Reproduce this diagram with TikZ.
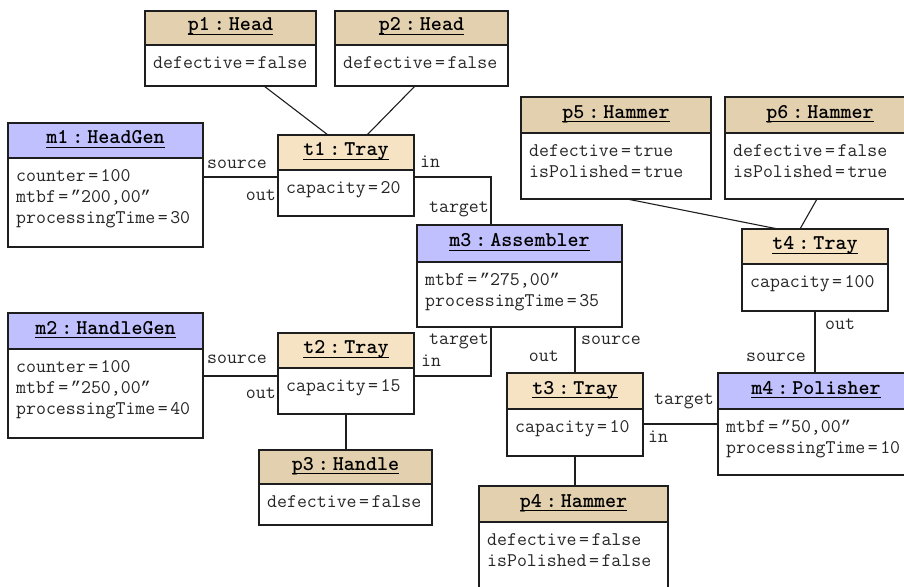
\documentclass[tikz,border=0pt]{standalone}
\usepackage{fontspec}
\newfontfamily\quotefont{Liberation Mono}
\usetikzlibrary{calc}
\definecolor{partfill}{RGB}{226,208,174}
\definecolor{trayfill}{RGB}{245,227,196}
\definecolor{machfill}{RGB}{192,192,255}
\definecolor{ink}{RGB}{30,30,30}
\newcommand{\ulb}[1]{\setbox0\hbox{#1}\rlap{\raisebox{-4.4pt}{\rule{\wd0}{1.1pt}}}\box0}
\newcommand{\ttl}[2]{\ulb{#1\kern4pt:\kern4pt#2}}
\newcommand{\eqs}{\kern2.5pt=\kern2.5pt}
\newcommand{\qq}{{\quotefont\fontsize{17}{21}\selectfont ”}}
\tikzset{
  objhead/.style={draw=ink, line width=1.1pt, inner sep=0pt, outer sep=0pt, anchor=north west,
    font=\fontsize{21}{22}\selectfont\ttfamily\bfseries, text height=10pt, text depth=4pt},
  objbody/.style={draw=ink, fill=white, line width=1.1pt, inner sep=0pt, outer sep=0pt, anchor=north west},
  attr/.style={inner sep=0pt, anchor=base west, font=\fontsize{19.3}{21}\selectfont\ttfamily, text=black!85},
  lbl/.style={inner sep=0pt, font=\fontsize{19.3}{21}\selectfont\ttfamily, text=black!85},
  conn/.style={draw=ink, line width=1.1pt}
}
\newcommand{\UObj}[9]{%
  \node[objhead, fill=#7, minimum width=#4pt, minimum height=#5pt] (#1h) at (#2,#3) {#8};
  \node[objbody, minimum width=#4pt, minimum height=#6pt] (#1b) at (#1h.south west) {};
  \node[attr] (#1a) at ([xshift=8pt,yshift=-23.5pt]#1b.north west) {\begin{tabular}[t]{@{}l@{}}#9\end{tabular}};
}
\begin{document}
\begin{tikzpicture}[x=1pt,y=-1pt]
\useasboundingbox (0,0) rectangle (904,586);
\clip (0,0) rectangle (904,586);
\fill[white] (0,0) rectangle (904,586);

\UObj{p1}{145}{11}{171}{34}{41}{partfill}{\ttl{p1}{Head}}{defective\eqs false}
\UObj{p2}{335}{11}{173}{34}{41}{partfill}{\ttl{p2}{Head}}{defective\eqs false}
\UObj{m1}{8}{123}{195}{35}{89}{machfill}{\ttl{m1}{HeadGen}}{counter\eqs 100\\mtbf\eqs \qq200,00\qq\\processingTime\eqs 30}
\UObj{t1}{278}{135}{136}{35}{46}{trayfill}{\ttl{t1}{Tray}}{capacity\eqs 20}
\UObj{m3}{417}{225}{205}{37}{65}{machfill}{\ttl{m3}{Assembler}}{mtbf\eqs \qq275,00\qq\\processingTime\eqs 35}
\UObj{p5}{521}{97}{190}{36}{66}{partfill}{\ttl{p5}{Hammer}}{defective\eqs true\\isPolished\eqs true}
\UObj{p6}{725}{97}{190}{36}{66}{partfill}{\ttl{p6}{Hammer}}{defective\eqs false\\isPolished\eqs true}
\UObj{t4}{742}{229}{146}{35}{47}{trayfill}{\ttl{t4}{Tray}}{capacity\eqs 100}
\UObj{m2}{8}{313}{195}{36}{89}{machfill}{\ttl{m2}{HandleGen}}{counter\eqs 100\\mtbf\eqs \qq250,00\qq\\processingTime\eqs 40}
\UObj{t2}{278}{333}{136}{35}{46}{trayfill}{\ttl{t2}{Tray}}{capacity\eqs 15}
\UObj{p3}{259}{450}{173}{34}{41}{partfill}{\ttl{p3}{Handle}}{defective\eqs false}
\UObj{t3}{507}{373}{136}{36}{47}{trayfill}{\ttl{t3}{Tray}}{capacity\eqs 10}
\UObj{m4}{718}{373}{196}{36}{66}{machfill}{\ttl{m4}{Polisher}}{mtbf\eqs \qq50,00\qq\\processingTime\eqs 10}
\UObj{p4}{479}{486}{189}{36}{80}{partfill}{\ttl{p4}{Hammer}}{defective\eqs false\\isPolished\eqs false}

% p1, p2 -- t1
\draw[conn] ([xshift=119pt]p1b.south west) -- ([xshift=50pt]t1h.north west);
\draw[conn] ([xshift=80pt]p2b.south west) -- ([xshift=89pt]t1h.north west);

% m1 -- t1
\coordinate (c1) at ([yshift=-7pt]t1b.north west);
\draw[conn] (c1) -- (c1 -| m1b.east);
\node[lbl, anchor=base east] (l1) at ([xshift=-11pt,yshift=8.5pt]c1) {source};
\node[lbl, anchor=base east] (l2) at ([xshift=-2pt,yshift=-23.5pt]c1) {out};

% t1 -- m3
\coordinate (c2) at ([yshift=-7pt]t1b.north east);
\coordinate (c3) at ([xshift=74pt]m3h.north west);
\draw[conn] (c2) -| (c3);
\node[lbl, anchor=base west] (l3) at ([xshift=6pt,yshift=10pt]c2) {in};
\node[lbl, anchor=base east] (l4) at ([xshift=-2pt,yshift=12.5pt]c3) {target};

% m2 -- t2
\coordinate (c4) at ([yshift=-8pt]t2b.north west);
\draw[conn] (c4) -- (c4 -| m2b.east);
\node[lbl, anchor=base east] (l5) at ([xshift=-11pt,yshift=12.5pt]c4) {source};
\node[lbl, anchor=base east] (l6) at ([xshift=-2pt,yshift=-22.5pt]c4) {out};

% t2 -- m3
\coordinate (c5) at ([yshift=-8pt]t2b.north east);
\coordinate (c6) at ([xshift=74pt]m3b.south west);
\draw[conn] (c5) -| (c6);
\node[lbl, anchor=base east] (l7) at ([xshift=-2pt,yshift=-17.5pt]c6) {target};
\node[lbl, anchor=base west] (l8) at ([xshift=7pt,yshift=9.5pt]c5) {in};

% t2 -- p3
\draw[conn] (t2b.south) -- (t2b.south |- p3h.north);

% m3 -- t3
\coordinate (c7) at (m3b.south -| t3h.north);
\draw[conn] (c7) -- (t3h.north);
\node[lbl, anchor=base west] (l9) at ([xshift=6pt,yshift=-17.5pt]c7) {source};
\node[lbl, anchor=base east] (l10) at ([xshift=-16pt,yshift=-34.5pt]c7) {out};

% t3 -- m4
\coordinate (c8) at ([yshift=-15pt]t3b.north east);
\coordinate (c9) at (c8 -| m4b.west);
\draw[conn] (c8) -- (c9);
\node[lbl, anchor=base east] (l11) at ([xshift=-4pt,yshift=19.5pt]c9) {target};
\node[lbl, anchor=base west] (l12) at ([xshift=5pt,yshift=-18.5pt]c8) {in};

% t3 -- p4
\draw[conn] (t3b.south) -- (t3b.south |- p4h.north);

% p5, p6 -- t4
\draw[conn] ([xshift=106pt]p5b.south west) -- ([xshift=36pt]t4h.north west);
\draw[conn] ([xshift=92pt]p6b.south west) -- ([xshift=58pt]t4h.north west);

% t4 -- m4
\draw[conn] (t4b.south) -- (t4b.south |- m4h.north);
\node[lbl, anchor=base west] (l13) at ([xshift=10pt,yshift=-18.5pt]t4b.south) {out};
\node[lbl, anchor=base east] (l14) at ([xshift=-9pt,yshift=-50pt]t4b.south) {source};
\end{tikzpicture}
\end{document}
